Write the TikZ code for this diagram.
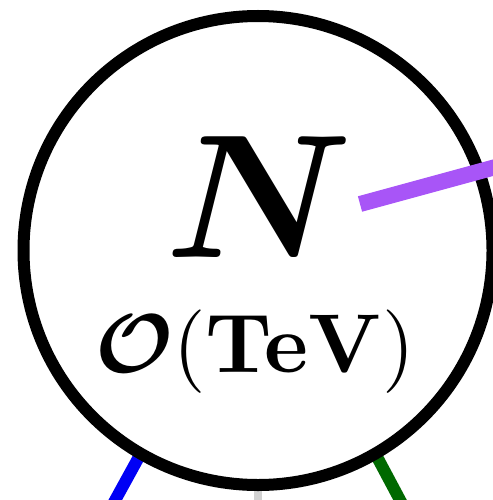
\documentclass[tikz,border=0pt]{standalone}
\usepackage{amsmath,amssymb,bm}
\usetikzlibrary{backgrounds,calc}
\definecolor{purpleline}{RGB}{168,85,247}
\definecolor{blueline}{RGB}{0,0,245}
\definecolor{greenline}{RGB}{0,105,0}
\definecolor{grayline}{RGB}{210,210,210}
\tikzset{
  ring/.style={circle, draw=black, line width=12pt, minimum size=469pt, inner sep=0pt, outer sep=0pt},
  bigtext/.style={anchor=base, inner sep=0pt, outer sep=0pt},
  leg/.style={line width=12pt}
}
\begin{document}
\begin{tikzpicture}[x=1pt,y=1pt]
\useasboundingbox (0,0) rectangle (492,-500);
\node[ring] (ring) at (258,-250.5) {};
\node[bigtext, scale=17.6] (N) at (259,-257) {$\boldsymbol{N}$};
\node[bigtext, scale=8.35] (scale) at (255,-372) {$\boldsymbol{\mathcal{O}}(\mathbf{TeV})$};
\coordinate (pin) at (360,-204);
\coordinate (pout) at (525,-159);
\draw[purpleline, line width=16pt] (pin) -- (pout);
\begin{pgfonlayer}{background}
\coordinate (bout) at (107,-515);
\coordinate (gout) at (408,-515);
\coordinate (wout) at (258,-515);
\draw[leg, blueline] (ring.240) -- (bout);
\draw[leg, greenline] (ring.300) -- (gout);
\draw[line width=8pt, grayline] (ring.270) -- (wout);
\end{pgfonlayer}
\end{tikzpicture}
\end{document}
